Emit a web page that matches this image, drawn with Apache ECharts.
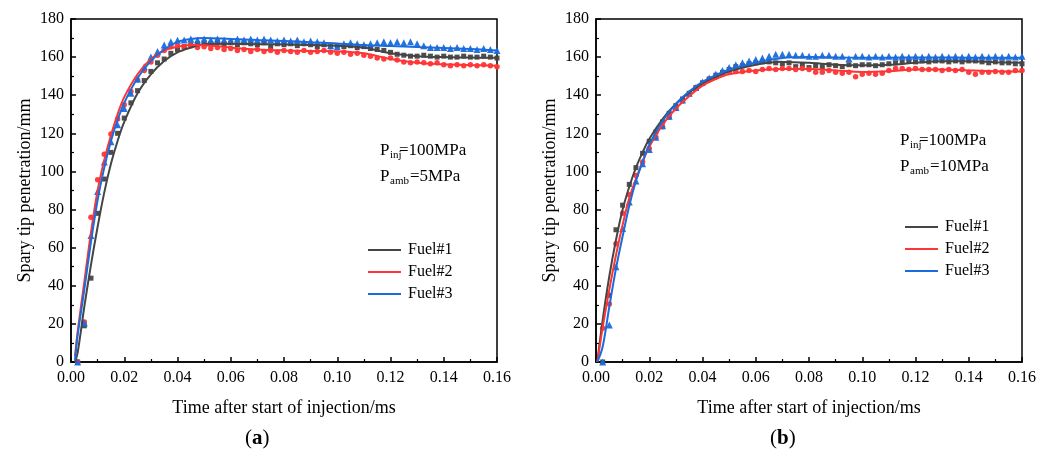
<!DOCTYPE html>
<html>
<head>
<meta charset="utf-8">
<script src="https://cdn.jsdelivr.net/npm/echarts@6/dist/echarts.min.js"></script>
<style>
html,body{margin:0;padding:0;background:#fff;}
#c{width:1049px;height:457px;}
</style>
</head>
<body>
<div id="c"></div>
<script>
// ---------- DATA ----------
const seriesNames = ['Fuel#1', 'Fuel#2', 'Fuel#3'];
const xTickLabels = ['0.00','0.02','0.04','0.06','0.08','0.10','0.12','0.14','0.16'];
// measurement times (ms), sampling step 0.0025 ms
const markerTimes = Array.from({length: 64}, (_, i) => +(0.0025 * (i + 1)).toFixed(4));

// (a) Pinj=100MPa, Pamb=5MPa : measured points
const aFuel1 = [0,19,44,78,96,110,120,128,136,142.4,147.7,152.5,157,159,162,164,165.5,166.5,167,167.5,167,168,167,167.5,166.5,167.5,167,166.5,167.5,165.5,167,166.5,167,166,167,166.5,165.5,166.5,165.5,166,165.5,166,165,165.5,164.5,164,163.5,162.5,161.5,161,160.5,160.5,161,160.5,160,160.5,160,160,160.5,160,160,160.5,160,159.5];
const aFuel2 = [0,21,76,95.6,109,119.6,127.5,135,142,148,153,157.5,161,163.5,165.5,166,165.5,166,165,165.5,164.5,165,164,164.5,163.5,164,163,164,163,163.5,162.5,163.5,163,162.5,163.5,162.5,163,163.5,162.5,162,162.5,161.5,162,161,160.5,159.5,159,159.5,158.5,157.5,157,157.5,157,156.5,157,156,155.5,156,155.5,156,155.5,156,155.5,155];
const aFuel3 = [0,20.5,66.4,89.5,105,115.6,124.5,133,141,148.5,155,160,163,166.4,168,168.8,169,169.5,169,169.5,169,169.5,169,168.5,169.5,169,169.5,169,169.5,169,168.5,169,168.5,169,168,168.5,168,167.5,166,165.5,167,167.5,167,166.5,167,167.5,168,167.5,168,167.5,168,167,166,165,165,165,164.5,165,164.5,164.5,164,164.5,164,163.5];

// (b) Pinj=100MPa, Pamb=10MPa : measured points
const bFuel1 = [0,35,69.4,82.3,93.2,102,109.5,115.8,120.7,126,130.5,134.5,138,141,144,146.5,148.5,150.5,152,153.5,155,155.5,156.5,157,157.5,157.5,157,156.5,157,155,156,154.5,155.5,155,156,155.5,155,156,155.5,156,156,155.5,156,156.5,157,157.5,158,157.5,158,157.5,158,158,157.5,158,157.5,158,158,157.5,157,157.5,157,157,156.5,156.5];
const bFuel2 = [17.7,30.5,62,78,87.8,97.9,105,112,118,123.5,128.5,133,137,140.5,143.5,146,148,149.5,151,152,152.5,152.5,153,152.5,153.5,154,153.5,154,154,153.5,154,153.5,152,152,153,152,151.5,152,149.7,151,151.5,151,151.5,153,154,154,153.5,154,153.5,153.5,153.5,153,153.5,153,153.5,152,151,152,152,152.5,152,152,153,153];
const bFuel3 = [0,19.4,50,70,84,95,104,111.5,118,124,129,133.5,137.5,141,144,147,149,151,153,154.5,156,157,158,158.7,159.5,160.5,161.5,161.5,161.5,161,161,160.5,160.5,161,161,160.5,160.5,159.2,160.5,160.5,160,160.5,160,160.5,160,160.5,160,160.5,160,160.5,160,160.5,160,160.5,160,160.5,160,160.5,160,160.5,160,160.5,160,160.5];

// fitted curves (sample times and read values)
const fitTimesA = [0.0015,0.0025,0.005,0.0075,0.01,0.0125,0.015,0.0175,0.02,0.025,0.03,0.035,0.04,0.045,0.05,0.06,0.07,0.08,0.09,0.10,0.11,0.12,0.13,0.14,0.15,0.16];
const fitTimesB = [0.0005,0.0025,0.005,0.0075,0.01,0.0125,0.015,0.0175,0.02,0.025,0.03,0.035,0.04,0.045,0.05,0.06,0.07,0.08,0.09,0.10,0.11,0.12,0.13,0.14,0.15,0.16];
const aFit1 = [0,5,29,51,71,89,104,116,126,141,151,158,162.5,165,166.8,167,166.8,166.6,166.3,166,165,162,160.5,160,159.8,159.6];
const aFit2 = [3,16,42,68,90,106,119,130,139,151,159,163.5,165.5,166.3,166.2,165,164,163.5,163.2,163,162,159,157,156.2,155.8,155.5];
const aFit3 = [1,14,38,63,85,102,116,127,136,149,158,164,168,169.5,170,169.5,169,168.5,167.8,167.2,166.3,165.8,165.3,164.8,164.2,163.5];
const bFit1 = [0,22,45,64,80,92,102,110,117,127.5,135.5,141.5,146,149.5,152.5,156,157.5,157,156,155.7,156,157,157.8,157.8,157.3,157];
const bFit2 = [0,18,38,56,72,86,96,105,113,124.5,133,139.5,145,148.5,151,153,153.8,153.7,153,152.2,152.6,153.5,153.5,153,152.6,152.5];
const bFit3 = [0,8,29,49,66,82,95,105,114,126.5,135.5,142,147,150.5,153.4,157,159.5,160,159.8,159.7,159.7,159.8,159.8,159.7,159.7,159.6];

// ---------- STYLE ----------
const colors = ['#454545', '#ff3535', '#1a6bdc'];
const symbols = ['rect', 'circle', 'triangle'];
const symbolSizes = [5, 5.5, 7];
const FONT = 'Liberation Serif';

function pairs(ts, vs) { return vs.map((v, i) => [ts[i], v]); }

const chart = echarts.init(document.getElementById('c'), null, {renderer: 'canvas'});

function xAxisDef(gi) {
  return {
    gridIndex: gi, type: 'value', min: 0, max: 0.16, interval: 0.02,
    name: 'Time after start of injection/ms', nameLocation: 'middle', nameGap: 37,
    nameTextStyle: {fontFamily: FONT, fontSize: 18, color: '#000'},
    axisLine: {show: true, onZero: false, lineStyle: {color: '#000', width: 1.5}},
    axisTick: {show: true, inside: true, length: 5, lineStyle: {color: '#000', width: 1.5}},
    minorTick: {show: true, splitNumber: 2, length: 3, lineStyle: {color: '#000', width: 1.2}},
    axisLabel: {fontFamily: FONT, fontSize: 16, color: '#000', margin: 8,
      formatter: v => xTickLabels[Math.round(v / 0.02)] ?? ''},
    splitLine: {show: false}
  };
}
function yAxisDef(gi) {
  return {
    gridIndex: gi, type: 'value', min: 0, max: 180, interval: 20,
    name: 'Spary tip penetration/mm', nameLocation: 'middle', nameGap: 37,
    nameTextStyle: {fontFamily: FONT, fontSize: 18, color: '#000'},
    axisLine: {show: true, onZero: false, lineStyle: {color: '#000', width: 1.5}},
    axisTick: {show: true, inside: true, length: 5, lineStyle: {color: '#000', width: 1.5}},
    minorTick: {show: true, splitNumber: 2, length: 3, lineStyle: {color: '#000', width: 1.2}},
    axisLabel: {fontFamily: FONT, fontSize: 16, color: '#000', margin: 7},
    splitLine: {show: false}
  };
}

const panels = [
  {pts: [aFuel1, aFuel2, aFuel3], fits: [aFit1, aFit2, aFit3], ft: fitTimesA},
  {pts: [bFuel1, bFuel2, bFuel3], fits: [bFit1, bFit2, bFit3], ft: fitTimesB}
];
const series = [];
panels.forEach((p, gi) => {
  for (let s = 0; s < 3; s++) {
    series.push({
      name: seriesNames[s] + ' data', type: 'scatter', xAxisIndex: gi, yAxisIndex: gi,
      data: pairs(markerTimes, p.pts[s]), symbol: symbols[s], symbolSize: symbolSizes[s],
      itemStyle: {color: colors[s], opacity: 0.95}, z: 3, silent: true
    });
  }
  for (let s = 0; s < 3; s++) {
    series.push({
      name: seriesNames[s], type: 'line', xAxisIndex: gi, yAxisIndex: gi,
      data: pairs(p.ft, p.fits[s]), smooth: 0.35, showSymbol: false, symbol: 'none',
      lineStyle: {color: colors[s], width: 2}, itemStyle: {color: colors[s]}, z: 4, silent: true
    });
  }
});

function legendDef(left, top) {
  return {
    data: seriesNames, orient: 'vertical', left: left, top: top,
    icon: 'rect', itemWidth: 33, itemHeight: 2, itemGap: 6,
    textStyle: {fontFamily: FONT, fontSize: 16, color: '#000', padding: [0, 0, 0, 2]},
    selectedMode: false
  };
}

function annot(x, y, sub, rest) {
  return [
    {type: 'text', left: x, top: y, style: {text: 'P', font: '17px "Liberation Serif"', fill: '#000'}},
    {type: 'text', left: x + 10, top: y + 8, style: {text: sub, font: '11px "Liberation Serif"', fill: '#000'}},
    {type: 'text', left: x + 10 + (sub === 'inj' ? 9 : 20), top: y, style: {text: rest, font: '17px "Liberation Serif"', fill: '#000'}}
  ];
}

const graphic = [].concat(
  annot(380, 142, 'inj', '=100MPa'),
  annot(380, 168, 'amb', '=5MPa'),
  annot(900, 132, 'inj', '=100MPa'),
  annot(900, 158, 'amb', '=10MPa'),
  [
    {type: 'text', left: 245, top: 428, style: {rich: {n: {font: '21px "Liberation Serif"', fill: '#000'}, b: {font: 'bold 21px "Liberation Serif"', fill: '#000'}}, text: '{n|(}{b|a}{n|)}'}},
    {type: 'text', left: 770, top: 428, style: {rich: {n: {font: '21px "Liberation Serif"', fill: '#000'}, b: {font: 'bold 21px "Liberation Serif"', fill: '#000'}}, text: '{n|(}{b|b}{n|)}'}}
  ]
);

chart.setOption({
  animation: false,
  backgroundColor: '#fff',
  grid: [
    {left: 71, top: 19, width: 426, height: 343, show: true, borderColor: '#000', borderWidth: 1.5, backgroundColor: 'transparent'},
    {left: 596, top: 19, width: 426, height: 343, show: true, borderColor: '#000', borderWidth: 1.5, backgroundColor: 'transparent'}
  ],
  xAxis: [xAxisDef(0), xAxisDef(1)],
  yAxis: [yAxisDef(0), yAxisDef(1)],
  legend: [legendDef(363, 237), legendDef(900, 214)],
  series: series,
  graphic: graphic
});
</script>
</body>
</html>
